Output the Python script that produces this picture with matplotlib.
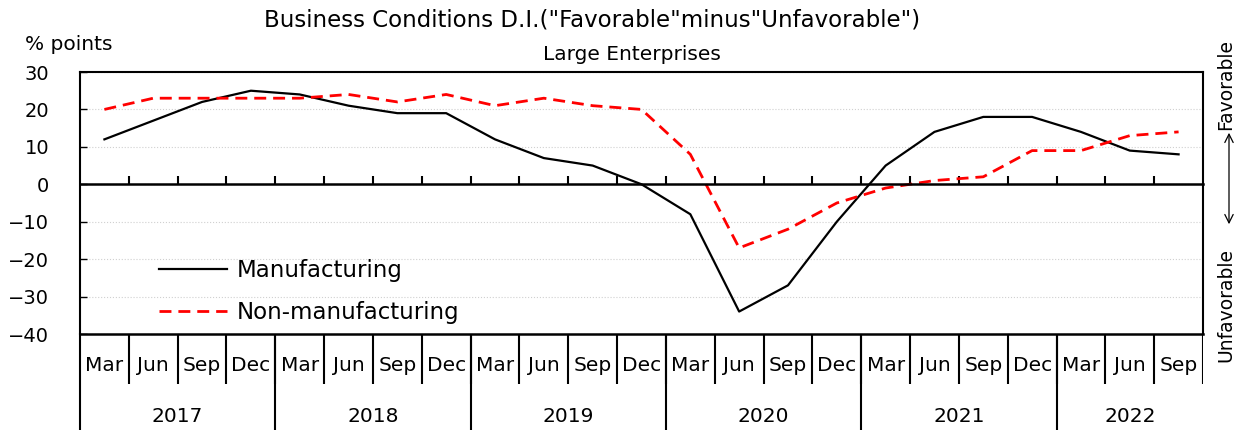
import numpy as np
import matplotlib
matplotlib.use('Agg')
from matplotlib import pyplot as plt

plt.rcParams.update({'font.family': 'DejaVu Sans'})

years = ['2017', '2018', '2019', '2020', '2021', '2022']
quarters_per_year = [4, 4, 4, 4, 4, 3]
months = ['Mar', 'Jun', 'Sep', 'Dec'] * 5 + ['Mar', 'Jun', 'Sep']

manufacturing = [12, 17, 22, 25, 24, 21, 19, 19, 12, 7, 5, 0,
                 -8, -34, -27, -10, 5, 14, 18, 18, 14, 9, 8]
non_manufacturing = [20, 23, 23, 23, 23, 24, 22, 24, 21, 23, 21, 20,
                     8, -17, -12, -5, -1, 1, 2, 9, 9, 13, 14]

W, H = 1244, 430
fig = plt.figure(figsize=(W / 100, H / 100), dpi=100)

# pixel layout
left, right, top, zero_bottom = 80, 1203, 72, 334
ax = fig.add_axes([left / W, (H - zero_bottom) / H, (right - left) / W, (zero_bottom - top) / H])

n = len(months)
x = np.arange(n)

ax.plot(x, manufacturing, color='black', lw=1.6, label='Manufacturing')
ax.plot(x, non_manufacturing, color='red', lw=2, dashes=(4.3, 2.5), label='Non-manufacturing')

ax.set_xlim(-0.5, n - 0.5)
ax.set_ylim(-40, 30)
ax.set_yticks(range(-40, 31, 10))
ax.yaxis.grid(True, color='#d0d0d0', linestyle=':', lw=0.8)
ax.tick_params(axis='y', direction='in', length=5, width=1, labelsize=14, pad=22)

for s in ['left', 'right', 'top']:
    ax.spines[s].set_linewidth(1.5)
ax.spines['bottom'].set_position(('data', 0))
ax.spines['bottom'].set_linewidth(1.8)
ax.set_xticks(np.arange(n - 1) + 0.5)
ax.tick_params(axis='x', direction='in', length=6, width=1.5, labelbottom=False)

ax.legend(loc='upper left', bbox_to_anchor=(0.07, 0.285), frameon=False, fontsize=16.5,
          handlelength=3.0, handletextpad=0.4, labelspacing=0.8, borderpad=0, borderaxespad=0)

# category axis below
cax = fig.add_axes([left / W, 0, (right - left) / W, (H - zero_bottom) / H])
cax.set_xlim(-0.5, n - 0.5)
cax.set_ylim(0, 1)
cax.set_xticks([])
cax.set_yticks([])
for s in ['right', 'bottom']:
    cax.spines[s].set_visible(False)
cax.spines['top'].set_linewidth(1.8)
cax.spines['left'].set_linewidth(1.5)
row_split = (H - 384) / (H - zero_bottom)
cax.vlines(np.arange(n - 1) + 0.5, row_split, 1, color='black', lw=1.5)
cax.vlines(n - 0.5, row_split, 1, color='black', lw=1.5)
for i, m in enumerate(months):
    cax.text(i, 0.67, m, ha='center', va='center', fontsize=14.5)
start = 0
for yr, q in zip(years, quarters_per_year):
    if start > 0:
        cax.vlines(start - 0.5, 0, 1, color='black', lw=1.5)
    cax.text(start + q / 2 - 0.5, 0.14, yr, ha='center', va='center', fontsize=14.5)
    start += q

fig.text(592 / W, 1 - 20 / H, 'Business Conditions D.I.("Favorable"minus"Unfavorable")',
         ha='center', va='center', fontsize=16.5)
fig.text(632 / W, 1 - 54 / H, 'Large Enterprises', ha='center', va='center', fontsize=14.5)
fig.text(25 / W, 1 - 45 / H, '% points', ha='left', va='center', fontsize=14.5)

# right side direction labels
fig.text(1226 / W, 1 - 85 / H, 'Favorable', rotation=90, ha='center', va='center', fontsize=13.5)
fig.text(1226 / W, 1 - 305 / H, 'Unfavorable', rotation=90, ha='center', va='center', fontsize=13.5)
fig.add_artist(matplotlib.patches.FancyArrowPatch(
    (1229 / W, 1 - 227 / H), (1229 / W, 1 - 130 / H), transform=fig.transFigure,
    arrowstyle='<->,head_length=6,head_width=3', lw=0.9, color='black'))

fig.savefig('out.png', dpi=100)
